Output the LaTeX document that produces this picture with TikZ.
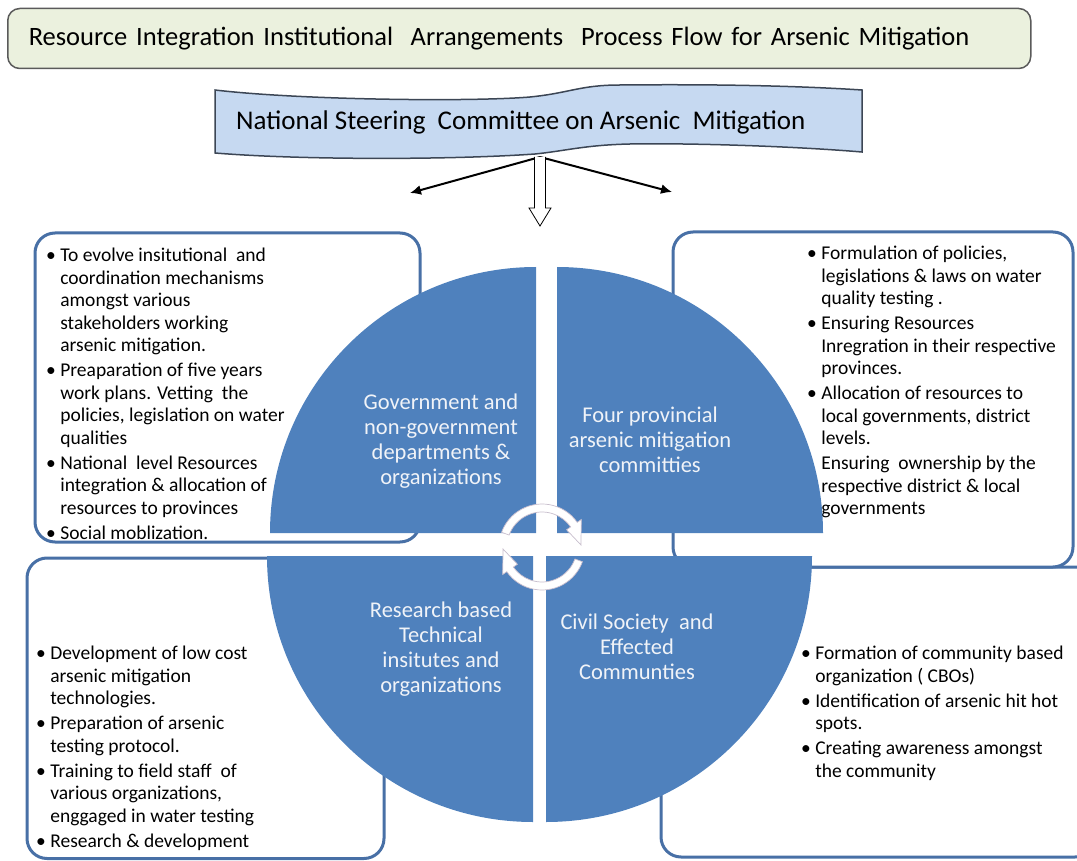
\documentclass[tikz,border=0pt]{standalone}
\usepackage{fontspec}
\setmainfont{Carlito}
\usetikzlibrary{arrows.meta}
\definecolor{quadblue}{RGB}{79,129,189}
\definecolor{boxline}{RGB}{72,112,166}
\definecolor{titlefill}{RGB}{235,241,222}
\definecolor{titleline}{RGB}{90,90,90}
\definecolor{bannerfill}{RGB}{198,217,241}
\definecolor{bannerline}{RGB}{60,70,85}
\definecolor{cycleline}{RGB}{200,190,205}
\definecolor{quadtext}{RGB}{240,243,248}
\tikzset{
  infobox/.style={draw=boxline, line width=3pt, fill=white, rounded corners=20pt},
  quad/.style={fill=quadblue},
  quadlabel/.style={align=center, text=quadtext, inner sep=0pt,
    font=\fontsize{22.5}{25}\selectfont},
  bulletlist/.style={align=left, anchor=north west, inner sep=0pt,
    font=\fontsize{19.5}{22.5}\selectfont},
  cyclearrow/.style={fill=white, draw=cycleline, line width=0.7pt},
  fanarrow/.style={line width=2pt, -{Latex[length=11pt,width=10pt]}},
  hollowarrow/.style={draw=black, fill=white, line width=0.8pt},
  titlebox/.style={draw=titleline, line width=1.5pt, fill=titlefill,
    rounded corners=12pt, minimum height=60pt, inner xsep=21pt,
    text width=981pt, align=left, font=\fontsize{26.5}{30}\selectfont},
  banner/.style={draw=bannerline, line width=1.5pt, fill=bannerfill}
}
\newcommand{\bulind}{\phantom{\textbullet}\ }

\begin{document}
\begin{tikzpicture}[x=1pt,y=-1pt]
\useasboundingbox (0,0) rectangle (1077,861);
\clip (0,0) rectangle (1077,861);

% heading and committee banner
\node[titlebox, anchor=west] (title) at (7,38.5)
  {Resource Integration Institutional\ \ Arrangements\ \ Process Flow for Arsenic Mitigation};
\draw[banner] (215,90) .. controls (300,100) and (470,102) .. (530,97)
  .. controls (570,93) and (580,85) .. (620,85)
  .. controls (720,84) and (800,86) .. (862,90) -- (862,152)
  .. controls (790,146) and (690,143) .. (630,144)
  .. controls (585,145) and (565,151) .. (535,154)
  .. controls (450,160) and (300,160) .. (215,153) -- cycle;
\node[anchor=west, inner sep=0pt, font=\fontsize{27}{30}\selectfont] (nsc) at (236,122)
  {National Steering\ \ Committee on Arsenic\ \ Mitigation};
\coordinate (fork) at (540,157);
\coordinate (lefttip) at (410,193);
\coordinate (righttip) at (672,192);
\draw[fanarrow] (fork) -- (lefttip);
\draw[fanarrow] (fork) -- (righttip);
\draw[hollowarrow] (fork) ++(-5.5,0) -- ++(0,51) -- ++(-5.5,0) -- ++(11,18)
  -- ++(11,-18) -- ++(-5.5,0) -- ++(0,-51);

% side boxes
\draw[infobox] (661,567) rectangle (1095,857);
\draw[infobox] (673,232) rectangle (1073,567);
\draw[infobox] (35,233) rectangle (420,542);
\draw[infobox] (27,558) rectangle (384,858.5);

\node[bulletlist] (govlist) at (46,245.7)
  {\strut\textbullet\ To evolve insitutional\ \ and\\
   \bulind coordination mechanisms\\
   \bulind amongst various\\
   \bulind stakeholders working\\
   \bulind arsenic mitigation.\\[2.5pt]
   \textbullet\ Preaparation of five years\\
   \bulind work plans. Vetting\ \ the\\
   \bulind policies, legislation on water\\
   \bulind qualities\\[2.5pt]
   \textbullet\ National\ \ level Resources\\
   \bulind integration \& allocation of\\
   \bulind resources to provinces\\[2.5pt]
   \textbullet\ Social moblization.};
\node[bulletlist] (provlist) at (807,243.7)
  {\strut\textbullet\ Formulation of policies,\\
   \bulind legislations \& laws on water\\
   \bulind quality testing .\\[2.5pt]
   \textbullet\ Ensuring Resources\\
   \bulind Inregration in their respective\\
   \bulind provinces.\\[2.5pt]
   \textbullet\ Allocation of resources to\\
   \bulind local governments, district\\
   \bulind levels.\\[2.5pt]
   \bulind Ensuring\ \ ownership by the\\
   \bulind respective district \& local\\
   \bulind governments};
\node[bulletlist] (reslist) at (36,643.7)
  {\strut\textbullet\ Development of low cost\\
   \bulind arsenic mitigation\\
   \bulind technologies.\\[2.5pt]
   \textbullet\ Preparation of arsenic\\
   \bulind testing protocol.\\[2.5pt]
   \textbullet\ Training to field staff\ \ of\\
   \bulind various organizations,\\
   \bulind enggaged in water testing\\[2.5pt]
   \textbullet\ Research \& development};
\node[bulletlist] (civlist) at (801,643.7)
  {\strut\textbullet\ Formation of community based\\
   \bulind organization ( CBOs)\\[2.5pt]
   \textbullet\ Identification of arsenic hit hot\\
   \bulind spots.\\[2.5pt]
   \textbullet\ Creating awareness amongst\\
   \bulind the community};

% the four quarters
\fill[quad] (536,533) -- ++(-266,0) arc (180:270:266) -- cycle;
\fill[quad] (557,533) -- ++(266,0) arc (0:-90:266) -- cycle;
\fill[quad] (533,556) -- ++(-266,0) arc (180:90:266) -- cycle;
\fill[quad] (546,556) -- ++(266,0) arc (0:90:266) -- cycle;

\node[quadlabel] (gov) at (441,441)
  {Government and\\non-government\\departments \&\\organizations};
\node[quadlabel] (prov) at (650,440)
  {Four provincial\\arsenic mitigation\\committies};
\node[quadlabel] (res) at (441,649)
  {Research based\\Technical\\insitutes and\\organizations};
\node[quadlabel] (civ) at (637,647)
  {Civil Society\ \ and\\Effected\\Communties};

% cycle arrows in the middle
\coordinate (hub) at (542,547);
\begin{scope}[shift={(hub)}]
\filldraw[cyclearrow] (200:35) arc (200:325:35) -- (325:30) -- (357:39)
  -- (325:48) -- (325:43) arc (325:200:43) -- cycle;
\filldraw[cyclearrow] (20:35) arc (20:145:35) -- (145:30) -- (177:39)
  -- (145:48) -- (145:43) arc (145:20:43) -- cycle;
\end{scope}
\end{tikzpicture}
\end{document}
